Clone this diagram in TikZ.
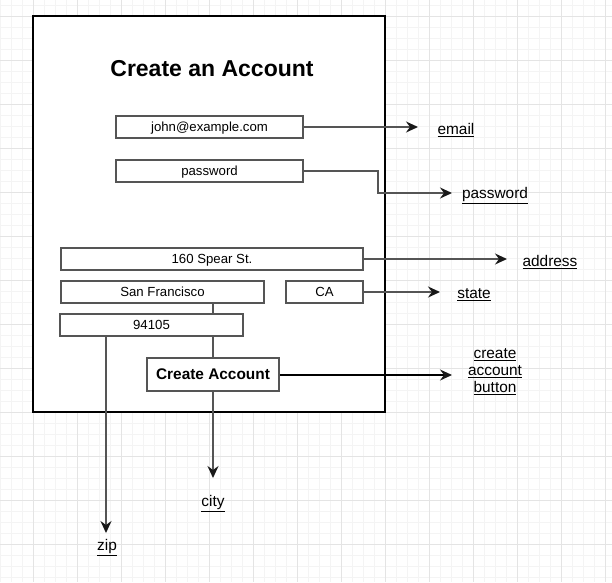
\documentclass[tikz,border=0pt]{standalone}
\usepackage{fontspec}
\setmainfont{Liberation Sans}
\usetikzlibrary{arrows.meta}
\pgfdeclarelayer{bg}
\pgfdeclarelayer{lines}
\pgfsetlayers{bg,lines,main}
\definecolor{gridminor}{RGB}{244,244,244}
\definecolor{gridmajor}{RGB}{228,228,228}
\definecolor{linegray}{RGB}{85,85,85}
\definecolor{tipgray}{RGB}{25,25,25}
\tikzset{
  field/.style={draw=linegray, line width=1.5, fill=white, inner sep=0pt,
    text height=9.5pt, text depth=0.5pt,
    font=\fontsize{13.2}{15}\selectfont},
  lbl/.style={inner sep=0pt, font=\fontsize{15.4}{17.5}\selectfont, align=center},
  conn/.style={draw=linegray, line width=1.6,
    -{Stealth[length=12pt,width=11pt,inset=4pt,color=tipgray]}},
}
\begin{document}
\begin{tikzpicture}[x=1pt,y=-1pt]
\useasboundingbox (0,0) rectangle (612,582);
\begin{pgfonlayer}{bg}
  \fill[white] (0,0) rectangle (612,582);
  \foreach \i in {0,...,55} {
    \draw[gridminor, line width=1] (11*\i,0) -- (11*\i,582);
  }
  \foreach \i in {0,...,52} {
    \draw[gridminor, line width=1] (0,5+11*\i) -- (612,5+11*\i);
  }
  \foreach \i in {0,...,13} {
    \draw[gridmajor, line width=1] (33+44*\i,0) -- (33+44*\i,582);
    \draw[gridmajor, line width=1] (0,16+44*\i) -- (612,16+44*\i);
  }
  \draw[black, line width=1.2, fill=white] (33,16) rectangle (385,412);
\end{pgfonlayer}

\node[font=\fontsize{23}{26}\selectfont\bfseries] (title) at (212,68.5) {Create an Account};

\node[field, minimum width=187, minimum height=22] (email) at (209.5,127) {john@example.com};
\node[field, minimum width=187, minimum height=22] (pass) at (209.5,171) {password};
\node[field, minimum width=302, minimum height=22] (addr) at (212,259) {160 Spear St.};
\node[field, minimum width=203, minimum height=22] (sf) at (162.5,292) {San Francisco};
\node[field, minimum width=77, minimum height=22] (ca) at (324.5,292) {CA};
\node[field, minimum width=183, minimum height=22] (zipbox) at (151.5,325) {94105};
\node[field, minimum width=132, minimum height=33, text height=11pt, text depth=0.5pt,
  font=\fontsize{15.4}{17.5}\selectfont\bfseries] (btn) at (213,374.5) {Create Account};

\node[lbl] (emaillbl) at (456,130) {\underline{email}};
\node[lbl] (passlbl) at (495,196) {\underline{password}};
\node[lbl] (addrlbl) at (550,262) {\underline{address}};
\node[lbl] (statelbl) at (474,295) {\underline{state}};
\node[lbl, font=\fontsize{15.4}{17}\selectfont] (btnlbl) at (495,372) {\underline{create}\\\underline{account}\\\underline{button}};
\node[lbl] (citylbl) at (213,503.5) {\underline{city}};
\node[lbl] (ziplbl) at (107,548) {\underline{zip}};

\coordinate (emailtip) at (418,127);
\coordinate (passbend) at (378,193);
\coordinate (passtip) at (452,193);
\coordinate (addrtip) at (507,259);
\coordinate (statetip) at (440,292);
\coordinate (btntip) at (452,375);
\coordinate (citytip) at (213,478);
\coordinate (ziptip) at (106,533);

\begin{pgfonlayer}{lines}
  \draw[conn] (email.east) -- (emailtip);
  \draw[conn] (pass.east) -| (passbend) -- (passtip);
  \draw[conn] (addr.east) -- (addrtip);
  \draw[conn] (ca.east) -- (statetip);
  \draw[conn, draw=black, line width=1.2] (btn.east |- btntip) -- (btntip);
  \draw[conn] (sf.south -| citytip) -- (citytip);
  \draw[conn] (zipbox.south -| ziptip) -- (ziptip);
\end{pgfonlayer}
\end{tikzpicture}
\end{document}
